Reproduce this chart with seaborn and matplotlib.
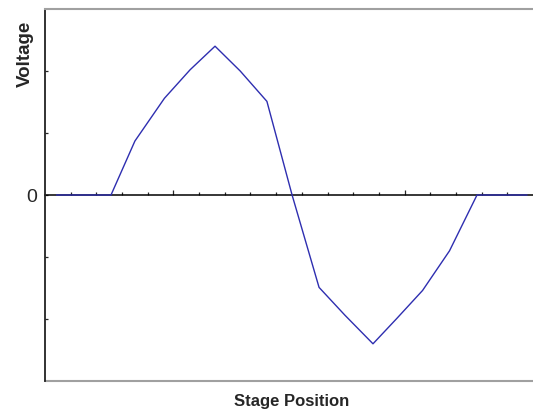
import matplotlib
matplotlib.use("Agg")
import matplotlib.pyplot as plt
import pandas as pd
import numpy as np
import seaborn as sns

# datos
posicion = [0.45, 2.57, 3.5, 4.65, 5.65, 6.62, 7.6, 8.64, 9.62, 10.67,
            11.68, 12.77, 13.7, 14.7, 15.75, 16.82, 18.77]
voltaje = [0, 0, 0.87, 1.56, 2.02, 2.40, 2.0, 1.51, 0, -1.49,
           -1.94, -2.40, -1.99, -1.54, -0.9, 0, 0]
ticks_x = list(range(1, 19))
ticks_x_mayores = [5, 14]
ticks_y = [-2, -1, 0, 1, 2]

df = pd.DataFrame({"Stage Position": posicion, "Voltage": voltaje})

sns.set_style("white")
plt.rcParams['font.family'] = ['Liberation Sans', 'DejaVu Sans']

fig = plt.figure(figsize=(5.33, 4.17), dpi=100)
ax = fig.add_axes([45/533, 36/417, 488/533, 372/417])

sns.lineplot(data=df, x="Stage Position", y="Voltage", ax=ax,
             color="#2e2eb0", linewidth=1.0, sort=False)

ax.set_xlim(0, 19)
ax.set_ylim(-3, 3)

# eje x en cero con marcas hacia arriba
ax.spines['bottom'].set_position(('data', 0))
ax.spines['bottom'].set_color("black")
ax.spines['bottom'].set_linewidth(1.1)
ax.spines['bottom'].set_zorder(1)
ax.set_xticks(ticks_x_mayores)
ax.set_xticks([t for t in ticks_x if t not in ticks_x_mayores], minor=True)
ax.tick_params(axis="x", which="major", direction="in", length=3.5, width=0.9,
               labelbottom=False, bottom=True)
ax.tick_params(axis="x", which="minor", direction="in", length=2, width=0.9,
               bottom=True)

ax.set_yticks(ticks_y)
ax.set_yticklabels(["" if t != 0 else "0" for t in ticks_y])
ax.tick_params(axis="y", direction="in", length=2, width=0.9, left=True,
               labelsize=14, pad=6)

ax.spines['left'].set_color("#222222")
ax.spines['left'].set_linewidth(1.3)
ax.spines['top'].set_color("#a0a0a0")
ax.spines['top'].set_linewidth(1.5)
ax.spines['right'].set_visible(False)
# borde inferior gris
ax.plot([0, 1], [0, 0], transform=ax.transAxes, color="#a0a0a0",
        linewidth=1.5, clip_on=False)

ax.set_xlabel("Stage Position", fontsize=12, fontweight="bold")
ax.xaxis.set_label_coords(0.505, -0.036)
ax.set_ylabel("Voltage", fontsize=13.5, fontweight="bold")
ax.yaxis.set_label_coords(-0.023, 0.879)

fig.savefig("out.png", dpi=100)
